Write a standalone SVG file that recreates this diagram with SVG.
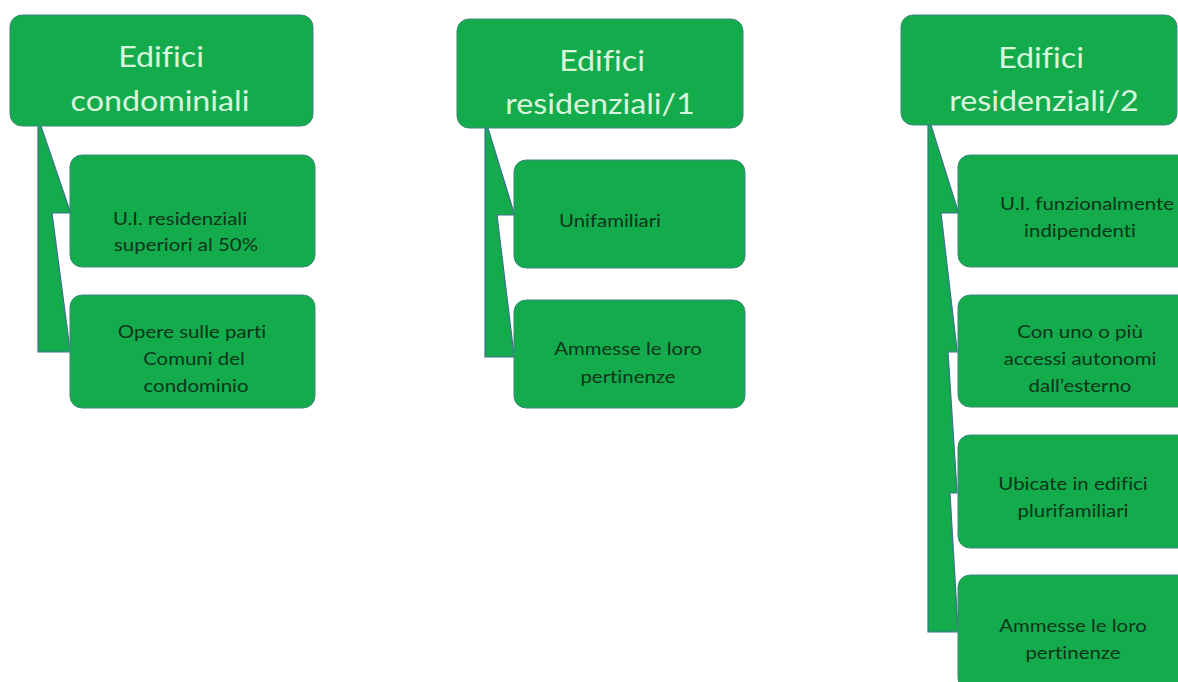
<svg xmlns="http://www.w3.org/2000/svg" width="1178" height="682" viewBox="0 0 1178 682">
<style>
.box{fill:#14AB4C;stroke:#3a8a78;stroke-width:1}
.conn{fill:#14AB4C;stroke:#3b7292;stroke-width:1.2;stroke-linejoin:miter}
.h{font-family:Lato,"Open Sans","Liberation Sans",sans-serif;font-size:28px;fill:#d8f6dc;text-anchor:middle;font-variant-ligatures:none}
.c{font-family:Lato,"Open Sans","Liberation Sans",sans-serif;font-size:17px;fill:#0b3519;text-anchor:middle;font-variant-ligatures:none}
</style>
<rect width="1178" height="682" fill="#ffffff"/>
<g id="connectors">
<polygon class="conn" points="38,126 41,126 70,211 70,213 52,213 70,350 70,352 38,352"/>
<polygon class="conn" points="485,128 488,128 514,213 514,215 497,215 514,355 514,357 485,357"/>
<polygon class="conn" points="928,125 931,125 958,211 958,213 941,213 957,350 957,352 948,352 957,491 957,493 950,493 958,630 958,632 928,632"/>
</g>
<g id="n1">
<rect class="box" x="10" y="15" width="303" height="111" rx="12"/>
<text class="h" transform="translate(161 0) scale(1.15 1)" y="67">Edifici</text>
<text class="h" transform="translate(160 0) scale(1.15 1)" y="111">condominiali</text>
</g>
<g id="n1a">
<rect class="box" x="70" y="155" width="245" height="112" rx="12"/>
<text class="c" transform="translate(180 0) scale(1.2 1)" y="225">U.I. residenziali</text>
<text class="c" transform="translate(186 0) scale(1.2 1)" y="251">superiori al 50%</text>
</g>
<g id="n1b">
<rect class="box" x="70" y="295" width="245" height="113" rx="12"/>
<text class="c" transform="translate(192 0) scale(1.2 1)" y="338">Opere sulle parti</text>
<text class="c" transform="translate(194 0) scale(1.2 1)" y="365">Comuni del</text>
<text class="c" transform="translate(196 0) scale(1.2 1)" y="392">condominio</text>
</g>
<g id="n2">
<rect class="box" x="457" y="19" width="286" height="109" rx="12"/>
<text class="h" transform="translate(602 0) scale(1.15 1)" y="71">Edifici</text>
<text class="h" transform="translate(600 0) scale(1.15 1)" y="114">residenziali/1</text>
</g>
<g id="n2a">
<rect class="box" x="514" y="160" width="231" height="108" rx="12"/>
<text class="c" transform="translate(610 0) scale(1.2 1)" y="227">Unifamiliari</text>
</g>
<g id="n2b">
<rect class="box" x="514" y="300" width="231" height="108" rx="12"/>
<text class="c" transform="translate(628 0) scale(1.2 1)" y="355">Ammesse le loro</text>
<text class="c" transform="translate(628 0) scale(1.2 1)" y="383">pertinenze</text>
</g>
<g id="n3">
<rect class="box" x="901" y="15" width="276" height="110" rx="12"/>
<text class="h" transform="translate(1041 0) scale(1.15 1)" y="68">Edifici</text>
<text class="h" transform="translate(1044 0) scale(1.15 1)" y="111">residenziali/2</text>
</g>
<g id="n3a">
<rect class="box" x="958" y="155" width="260" height="112" rx="12"/>
<text class="c" transform="translate(1087 0) scale(1.2 1)" y="210">U.I. funzionalmente</text>
<text class="c" transform="translate(1080 0) scale(1.2 1)" y="237">indipendenti</text>
</g>
<g id="n3b">
<rect class="box" x="958" y="295" width="260" height="112" rx="12"/>
<text class="c" transform="translate(1080 0) scale(1.2 1)" y="338">Con uno o più</text>
<text class="c" transform="translate(1080 0) scale(1.2 1)" y="365">accessi autonomi</text>
<text class="c" transform="translate(1080 0) scale(1.2 1)" y="392">dall’esterno</text>
</g>
<g id="n3c">
<rect class="box" x="958" y="435" width="260" height="113" rx="12"/>
<text class="c" transform="translate(1073 0) scale(1.2 1)" y="490">Ubicate in edifici</text>
<text class="c" transform="translate(1073 0) scale(1.2 1)" y="517">plurifamiliari</text>
</g>
<g id="n3d">
<rect class="box" x="958" y="575" width="260" height="115" rx="12"/>
<text class="c" transform="translate(1073 0) scale(1.2 1)" y="632">Ammesse le loro</text>
<text class="c" transform="translate(1073 0) scale(1.2 1)" y="659">pertinenze</text>
</g>
</svg>
